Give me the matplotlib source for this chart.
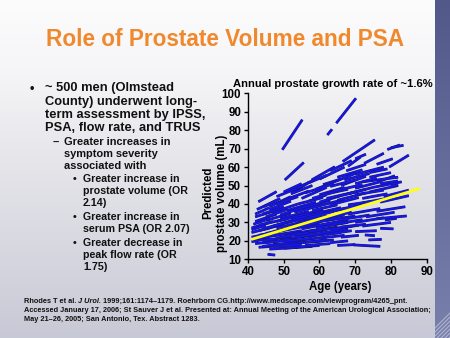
import numpy as np
import matplotlib
matplotlib.use("Agg")
import matplotlib.pyplot as plt
import matplotlib.patheffects as pe

plt.rcParams['font.family'] = ['Liberation Sans', 'DejaVu Sans']
plt.rcParams['font.weight'] = 'bold'

W, H = 450, 338

# individual growth trajectories: (age start, volume start, age end, volume end)
outliers = [
    (49.6, 69.4, 55.2, 85.7), (62.2, 77.4, 63.5, 80.5), (64.7, 83.8, 70.2, 97.3),
    (50.3, 53.0, 55.6, 62.5), (66.5, 63.0, 75.5, 74.8), (79.5, 60.0, 85.0, 66.5),
    (79.0, 69.5, 82.5, 72.0), (80.0, 70.5, 83.5, 71.8), (45.5, 12.7, 47.6, 12.3),
]
upper_band = [
    (63.0, 58.0, 69.0, 63.5), (68.0, 60.5, 71.5, 65.5), (70.0, 64.5, 73.0, 67.0),
    (72.5, 62.0, 78.0, 67.5), (76.0, 61.5, 80.5, 64.5), (67.5, 58.0, 73.0, 61.5),
    (60.0, 53.5, 67.0, 60.0), (57.0, 51.5, 62.0, 55.5), (70.0, 56.0, 78.0, 60.0),
    (74.0, 57.0, 79.0, 59.0), (65.0, 54.5, 72.0, 58.5), (61.0, 50.5, 66.0, 53.5),
    (59.0, 48.0, 70.0, 56.5), (66.0, 50.0, 73.0, 55.0), (72.0, 52.0, 82.0, 54.5),
    (77.0, 51.0, 82.0, 52.5), (70.0, 48.5, 77.0, 52.0), (64.0, 47.0, 72.0, 50.5),
    (56.0, 46.0, 64.0, 51.0), (52.0, 45.5, 58.0, 50.0), (48.0, 44.0, 55.0, 49.5),
    (53.5, 48.5, 58.5, 53.0), (70.0, 51.0, 76.0, 54.0), (63.0, 49.5, 70.0, 53.0),
    (67.0, 53.0, 74.0, 56.5), (74.0, 54.5, 80.0, 57.0), (50.0, 46.5, 55.0, 51.0),
]
middle_band = [
    (42.0, 34.5, 46.0, 38.0), (42.5, 37.0, 48.0, 42.0), (42.9, 41.2, 48.0, 46.7),
    (44.5, 38.5, 49.0, 43.0), (46.0, 38.5, 52.0, 44.0), (50.0, 42.0, 57.0, 47.0),
    (52.2, 45.8, 57.3, 52.0), (57.8, 53.0, 64.3, 60.2), (55.0, 43.0, 62.0, 49.0),
    (60.0, 45.0, 67.0, 49.0), (68.0, 45.5, 75.0, 49.0), (74.0, 46.5, 82.0, 50.0),
    (78.0, 44.0, 85.0, 47.5), (72.0, 43.0, 79.0, 45.5), (65.0, 42.0, 73.0, 46.0),
    (60.0, 41.0, 66.0, 44.5), (57.0, 41.5, 62.0, 45.0), (62.0, 45.5, 68.0, 48.0),
    (76.5, 52.1, 81.1, 55.3), (80.0, 49.5, 82.0, 50.5), (72.0, 40.5, 80.0, 43.5),
    (77.0, 41.0, 85.0, 44.5), (68.0, 39.5, 75.0, 41.5), (63.0, 39.5, 71.0, 43.5),
    (54.0, 40.0, 61.0, 43.5), (58.0, 43.0, 65.0, 47.0), (62.0, 43.0, 70.0, 46.5),
    (66.0, 44.5, 73.0, 48.0), (70.0, 45.0, 78.0, 47.5), (75.0, 49.0, 83.0, 52.0),
    (48.0, 40.0, 54.0, 44.0),
]
core = [
    (43.0, 16.5, 50.0, 17.5), (46.0, 15.5, 54.0, 16.5), (50.0, 16.0, 58.0, 17.0),
    (53.0, 16.5, 60.0, 17.5), (42.0, 18.5, 49.0, 20.0), (47.0, 18.0, 55.0, 19.5),
    (52.0, 18.5, 61.0, 20.0), (56.0, 17.5, 63.0, 18.5), (41.0, 19.5, 46.0, 21.5),
    (44.0, 20.0, 52.0, 22.5), (49.0, 20.5, 58.0, 23.0), (55.0, 20.5, 62.0, 22.0),
    (58.0, 19.5, 64.0, 20.5), (41.0, 22.0, 47.0, 24.5), (43.0, 23.0, 51.0, 26.0),
    (46.0, 22.5, 55.0, 25.5), (50.0, 23.0, 59.0, 26.0), (54.0, 23.5, 62.0, 26.0),
    (57.0, 22.5, 66.0, 24.5), (60.0, 24.0, 68.0, 26.5), (41.0, 24.5, 46.0, 27.0),
    (43.0, 25.5, 50.0, 29.0), (47.0, 25.0, 56.0, 29.0), (51.0, 26.0, 60.0, 29.5),
    (55.0, 26.5, 63.0, 29.5), (59.0, 27.0, 68.0, 30.0), (41.0, 27.0, 47.0, 30.5),
    (43.0, 28.5, 51.0, 32.0), (47.0, 28.0, 55.0, 32.5), (50.0, 29.5, 58.0, 33.0),
    (54.0, 30.0, 62.0, 33.5), (58.0, 30.5, 67.0, 34.0), (62.0, 31.0, 70.0, 33.5),
    (42.0, 30.5, 48.0, 34.5), (45.0, 31.0, 52.0, 35.0), (49.0, 32.0, 57.0, 36.0),
    (53.0, 33.0, 61.0, 37.0), (57.0, 34.0, 66.0, 38.0), (61.0, 35.0, 70.0, 38.5),
    (42.0, 33.0, 47.0, 36.0), (44.0, 34.5, 50.0, 38.5), (47.0, 35.5, 54.0, 40.0),
    (51.0, 36.5, 59.0, 41.0), (55.0, 37.5, 63.0, 42.0), (59.0, 38.5, 67.0, 42.5),
    (46.0, 37.0, 52.0, 41.5), (41.0, 26.0, 45.0, 28.5), (44.0, 17.0, 48.0, 18.0),
    (41.5, 21.0, 48.0, 23.5), (45.0, 24.0, 53.0, 27.5), (48.0, 27.0, 57.0, 31.0),
    (52.0, 28.0, 60.0, 31.5), (56.0, 28.5, 64.0, 32.0), (44.0, 26.5, 52.0, 30.5),
    (48.0, 30.5, 56.0, 34.5), (52.0, 31.5, 60.0, 35.0), (56.0, 32.0, 64.0, 36.0),
    (41.5, 29.0, 46.0, 32.0), (45.0, 33.0, 51.0, 37.0), (49.0, 34.0, 56.0, 38.5),
    (53.0, 35.5, 60.0, 39.0), (43.0, 21.5, 51.0, 24.0), (48.0, 21.5, 57.0, 24.5),
    (53.0, 22.0, 60.0, 24.0), (45.0, 19.0, 53.0, 21.0), (50.0, 19.5, 58.0, 21.5),
    (55.0, 19.0, 62.0, 20.5), (60.0, 21.5, 67.0, 23.0), (47.0, 17.0, 55.0, 18.0),
    (57.0, 25.0, 65.0, 27.5), (61.0, 26.0, 69.0, 28.0), (62.0, 33.0, 69.0, 35.5),
    (64.0, 36.5, 72.0, 39.5), (58.0, 36.5, 65.0, 39.5),
]
right_low = [
    (60.0, 28.5, 68.0, 31.5), (63.0, 26.0, 71.0, 28.5), (62.0, 23.5, 69.0, 25.5),
    (64.0, 29.0, 72.0, 31.5), (66.0, 31.5, 74.0, 34.0), (68.0, 34.5, 77.0, 37.5),
    (70.0, 30.0, 78.0, 32.5), (66.0, 27.5, 73.0, 29.0), (72.0, 28.0, 80.0, 30.0),
    (73.0, 33.0, 81.0, 35.5), (76.0, 36.0, 84.0, 38.5), (78.3, 31.3, 81.6, 32.2),
    (76.0, 32.0, 84.4, 33.5), (77.0, 26.8, 80.7, 26.5), (72.7, 23.2, 75.5, 22.8),
    (73.7, 20.5, 77.4, 20.8), (69.5, 17.8, 77.0, 17.0), (70.0, 25.0, 76.0, 25.5),
    (63.0, 19.0, 68.0, 20.0), (66.0, 22.0, 71.0, 23.0), (65.0, 17.5, 70.0, 18.0),
]

# population trend line (~1.6%/year)
trend_age = [41.0, 88.0]
trend_vol = [20.8, 48.3]

x_ticks = [40, 50, 60, 70, 80, 90]
y_ticks = [10, 20, 30, 40, 50, 60, 70, 80, 90, 100]

bullets = [
    (30, 45, 91.5, 9.3, ["~ 500 men (Olmstead", "County) underwent long-",
                         "term assessment by IPSS,", "PSA, flow rate, and TRUS"], "•", 13.3),
    (53, 64, 145.5, 7.9, ["Greater increases in", "symptom severity",
                          "associated with"], "–", 11.8),
    (73, 83, 182.5, 7.7, ["Greater increase in", "prostate volume (OR", "2.14)"], "•", 12.0),
    (73, 83, 220.0, 7.7, ["Greater increase in", "serum PSA (OR 2.07)"], "•", 12.0),
    (73, 83, 246.5, 7.7, ["Greater decrease in", "peak flow rate (OR", "1.75)"], "•", 12.0),
]


def fx(x):
    return x / W


def fy(y):
    return 1 - y / H


fig = plt.figure(figsize=(W / 100, H / 100), dpi=100)

# slide background
bg = fig.add_axes([0, 0, 1, 1], zorder=-10)
stops_y = np.array([0.0, 0.2, 0.5, 0.8, 1.0])
stops_c = np.array([[252, 252, 253], [246, 246, 248], [228, 228, 233],
                    [212, 212, 222], [200, 201, 214]]) / 255
yy = np.linspace(0, 1, H)
grad = np.stack([np.interp(yy, stops_y, stops_c[:, k]) for k in range(3)], axis=1)
img = np.repeat(grad[:, None, :], W, axis=1)
# dark band on the right edge
band = np.stack([np.interp(yy, [0, 1], [c0, c1]) for c0, c1 in
                 zip([82, 88, 138], [122, 128, 172])], axis=1) / 255
img[:, 435:, :] = band[:, None, :]
bg.imshow(img, extent=[0, W, H, 0], aspect='auto', interpolation='bilinear')
for k in range(-10, 40, 4):
    bg.plot([435 + k, 435 + k + 25], [H, H - 25], color='#c8cbe0', lw=0.8, alpha=0.7)
bg.set_xlim(0, W)
bg.set_ylim(H, 0)
bg.axis('off')

# slide title
fig.text(fx(225), fy(46), "Role of Prostate Volume and PSA", color='#f0892e',
         fontsize=16.3, fontweight='bold', ha='center', va='baseline')

# bullet text
for bx, tx, y0, size, lines, mark, step in bullets:
    fig.text(fx(bx), fy(y0), mark, fontsize=size, ha='left', va='baseline', color='#111111')
    for i, line in enumerate(lines):
        fig.text(fx(tx), fy(y0 + i * step), line, fontsize=size, ha='left',
                 va='baseline', color='#111111')

# chart
ax = fig.add_axes([fx(248), fy(259.3), (426.7 - 248) / W, (259.3 - 93.3) / H])
ax.set_facecolor('none')
outline = [pe.Stroke(linewidth=2.0, foreground='#18186e'), pe.Normal()]
for group in (core, right_low, middle_band, upper_band, outliers):
    for a0, v0, a1, v1 in group:
        ax.plot([a0, a1], [v0, v1], color='#1515f8', lw=1.2,
                solid_capstyle='butt', path_effects=outline)
ax.plot(trend_age, trend_vol, color='#ffff10', lw=2.0, solid_capstyle='butt')

ax.set_xlim(40, 90)
ax.set_ylim(10, 100)
ax.set_xticks(x_ticks)
ax.set_yticks(y_ticks)
ax.tick_params(labelsize=8.3, length=3, width=1, pad=2)
for lab in ax.get_xticklabels() + ax.get_yticklabels():
    lab.set_fontweight('bold')
for s in ('top', 'right'):
    ax.spines[s].set_visible(False)
for s in ('left', 'bottom'):
    ax.spines[s].set_linewidth(1)

fig.text(fx(333), fy(86.7), "Annual prostate growth rate of ~1.6%", fontsize=8.1,
         fontweight='bold', ha='center', va='baseline')
fig.text(fx(215), fy(193), "Predicted\nprostate volume (mL)", fontsize=8.3,
         fontweight='bold', ha='center', va='center', rotation=90,
         multialignment='center', linespacing=1.15)
fig.text(fx(340.7), fy(286.7), "Age (years)", fontsize=8.3, fontweight='bold',
         ha='center', va='center')

# reference footnote, with the journal name in italics
fs = 5.3
fig.canvas.draw()
renderer = fig.canvas.get_renderer()
x = 24
for piece, style in [("Rhodes T et al. ", 'normal'), ("J Urol.", 'italic'),
                     (" 1999;161:1174–1179. Roehrborn CG.http://www.medscape.com/viewprogram/4265_pnt.", 'normal')]:
    t = fig.text(fx(x), fy(302.7), piece, fontsize=fs, fontweight='bold',
                 fontstyle=style, ha='left', va='baseline', color='#111111')
    x += t.get_window_extent(renderer).width
fig.text(fx(24), fy(312), "Accessed January 17, 2006; St Sauver J et al. Presented at: Annual "
         "Meeting of the American Urological Association;", fontsize=fs,
         fontweight='bold', ha='left', va='baseline', color='#111111')
fig.text(fx(24), fy(321.3), "May 21–26, 2005; San Antonio, Tex. Abstract 1283.",
         fontsize=fs, fontweight='bold', ha='left', va='baseline', color='#111111')

fig.savefig("out.png", dpi=100)
